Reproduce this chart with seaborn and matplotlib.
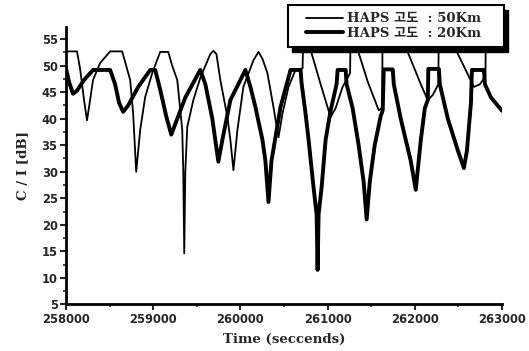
import numpy as np
import pandas as pd
import matplotlib
matplotlib.use("Agg")
import matplotlib.pyplot as plt
import seaborn as sns
from matplotlib.ticker import MultipleLocator
from matplotlib.patches import Rectangle

# ---- data (time in seconds, C/I in dB) ----
t_50km = [258000, 258126, 258161, 258207, 258241, 258276, 258310, 258391, 258506,
          258644, 258690, 258736, 258770, 258805, 258851, 258908, 258989, 259080,
          259172, 259218, 259276, 259333, 259345, 259356, 259368, 259391, 259460,
          259540, 259655, 259690, 259725, 259770, 259851, 259885, 259920, 259966,
          260034, 260149, 260207, 260253, 260310, 260379, 260437, 260483, 260552,
          260632, 260713, 260724, 260805, 260920, 261034, 261092, 261172, 261258,
          261264, 261345, 261460, 261586, 261626, 261632, 261908, 262069, 262149,
          262207, 262270, 262276, 262471, 262678, 262747, 262810, 262816, 263000]
ci_50km = [52.7, 52.7, 49.5, 43.5, 39.7, 43.5, 47.3, 50.5, 52.7,
           52.7, 50.0, 47.3, 41.0, 30.0, 37.9, 44.1, 48.6, 52.6,
           52.6, 50.0, 47.3, 37.9, 30.0, 14.6, 30.0, 38.5, 43.5,
           47.7, 52.2, 52.8, 52.2, 47.3, 40.3, 36.0, 30.3, 37.9,
           46.0, 51.0, 52.6, 51.3, 48.6, 42.2, 36.5, 41.0, 46.0,
           49.2, 49.5, 58.0, 53.0, 46.5, 40.3, 42.0, 46.0, 48.6,
           58.0, 53.0, 47.0, 41.6, 42.0, 64.0, 53.0, 46.5, 43.5,
           44.5, 46.5, 60.0, 53.0, 46.0, 46.5, 48.0, 58.0, 54.0]

t_20km = [258000, 258034, 258080, 258126, 258207, 258310, 258506, 258563, 258609,
          258655, 258713, 258828, 258966, 259023, 259080, 259149, 259207, 259253,
          259368, 259540, 259598, 259678, 259747, 259793, 259885, 260057, 260115,
          260172, 260253, 260287, 260322, 260356, 260402, 260460, 260575, 260690,
          260701, 260747, 260782, 260839, 260874, 260885, 260897, 260931, 260977,
          261034, 261103, 261115, 261207, 261218, 261287, 261356, 261414, 261448,
          261483, 261540, 261609, 261632, 261644, 261747, 261759, 261839, 261954,
          262011, 262069, 262115, 262149, 262155, 262276, 262287, 262379, 262494,
          262563, 262598, 262644, 262655, 262793, 262804, 262874, 263000]
ci_20km = [49.5, 47.0, 44.7, 45.3, 47.3, 49.2, 49.2, 46.5, 43.0,
           41.3, 42.5, 46.0, 49.2, 49.2, 45.5, 40.5, 37.0, 39.0,
           44.0, 49.2, 46.5, 40.0, 31.9, 36.0, 43.5, 49.2, 46.0,
           42.2, 36.0, 32.0, 24.3, 32.0, 36.5, 42.2, 49.2, 49.2,
           46.8, 41.0, 36.0, 27.0, 22.0, 11.5, 22.0, 27.0, 36.0,
           41.5, 46.5, 49.2, 49.2, 46.5, 42.0, 35.0, 28.0, 21.0,
           28.0, 35.0, 40.5, 41.6, 49.3, 49.3, 46.5, 40.0, 32.0,
           26.6, 36.0, 42.0, 43.5, 49.4, 49.4, 46.5, 40.0, 34.0,
           30.7, 34.0, 43.0, 49.2, 49.2, 46.5, 44.0, 41.5]

legend_labels = ["HAPS 고도  : 50Km", "HAPS 고도  : 20Km"]
x_ticks = [258000, 259000, 260000, 261000, 262000, 263000]
y_ticks = [5, 10, 15, 20, 25, 30, 35, 40, 45, 50, 55]

sns.set_style("ticks")
plt.rcParams['font.family'] = ['DejaVu Sans', 'Noto Sans CJK KR']
serif = ["DejaVu Serif", "Noto Sans CJK KR"]

W, H = 529, 351
fig = plt.figure(figsize=(W / 100, H / 100), dpi=100)
ax = fig.add_axes([66 / W, 1 - 304.3 / H, (502 - 66) / W, (304.3 - 27) / H])

df50 = pd.DataFrame({"t": t_50km, "ci": ci_50km})
df20 = pd.DataFrame({"t": t_20km, "ci": ci_20km})
sns.lineplot(data=df50, x="t", y="ci", sort=False, estimator=None, color="black",
             linewidth=1.3, ax=ax, label=legend_labels[0])
sns.lineplot(data=df20, x="t", y="ci", sort=False, estimator=None, color="black",
             linewidth=2.8, ax=ax, label=legend_labels[1])
handles, labels = ax.get_legend_handles_labels()
if ax.get_legend() is not None:
    ax.get_legend().remove()

ax.set_xlim(258000, 263000)
ax.set_ylim(5, 57.3)
ax.set_xticks(x_ticks)
ax.set_yticks(y_ticks)
ax.xaxis.set_minor_locator(MultipleLocator(500))
ax.yaxis.set_minor_locator(MultipleLocator(2.5))
ax.tick_params(axis="both", which="major", length=4, width=1.5, labelsize=8.3, pad=2)
ax.tick_params(axis="both", which="minor", length=2.5, width=1.2)
for lab in ax.get_xticklabels() + ax.get_yticklabels():
    lab.set_fontweight("bold")
for s in ["top", "right"]:
    ax.spines[s].set_visible(False)
for s in ["left", "bottom"]:
    ax.spines[s].set_linewidth(2)
    ax.spines[s].set_color("black")

ax.set_xlabel("Time (seccends)", fontfamily=serif, fontweight="bold",
              fontsize=9.6, labelpad=5)
ax.set_ylabel("C / I [dB]", fontfamily=serif, fontweight="bold",
              fontsize=9.6, labelpad=9)

# legend box with solid drop shadow (figure pixel positions)
bx0, bx1, by0, by1 = 288, 504, 5, 47
fig.patches.append(Rectangle(((bx0 + 4) / W, 1 - (by1 + 5) / H), (bx1 - bx0) / W,
                             (by1 - by0) / H, transform=fig.transFigure,
                             facecolor="black", edgecolor="black", zorder=5))
fig.patches.append(Rectangle((bx0 / W, 1 - by1 / H), (bx1 - bx0) / W,
                             (by1 - by0) / H, transform=fig.transFigure,
                             facecolor="white", edgecolor="black", linewidth=1.5,
                             zorder=6))
leg = fig.legend(handles, labels, loc="center",
                 bbox_to_anchor=((bx0 + bx1) / 2 / W - 0.004, 1 - (by0 + by1) / 2 / H),
                 frameon=False, handlelength=2.8, handletextpad=0.3,
                 borderpad=0.2, labelspacing=0.1,
                 prop={"family": serif, "weight": "bold", "size": 9.5})
leg.set_zorder(10)

fig.savefig("out.png", dpi=100)
